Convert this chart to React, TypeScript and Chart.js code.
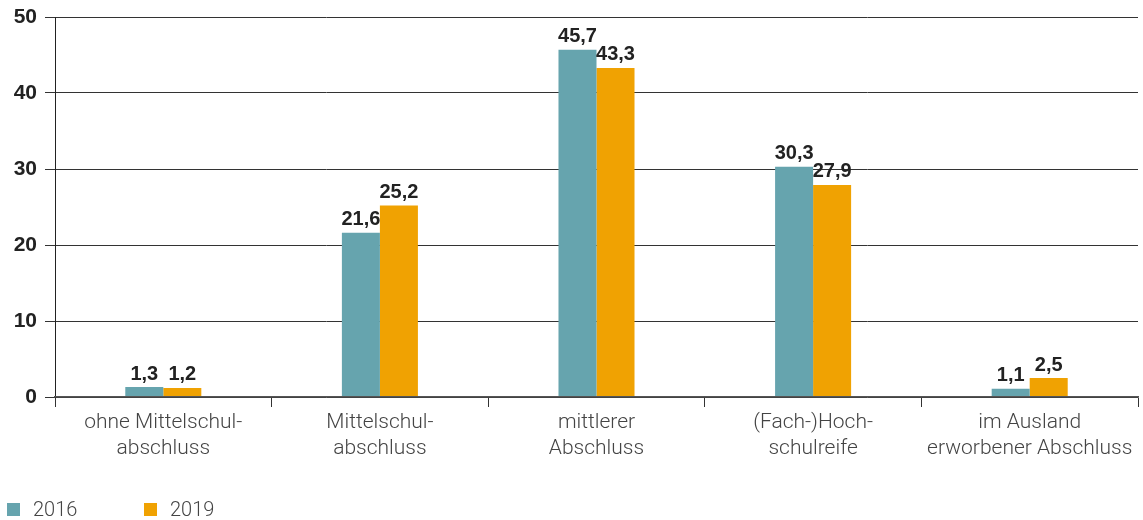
import React, { useEffect, useRef } from "react";
import { Chart, registerables } from "chart.js";

Chart.register(...registerables);

const categories: string[][] = [
  ["ohne Mittelschul-", "abschluss"],
  ["Mittelschul-", "abschluss"],
  ["mittlerer", "Abschluss"],
  ["(Fach-)Hoch-", "schulreife"],
  ["im Ausland", "erworbener Abschluss"],
];
const values2016: number[] = [1.3, 21.6, 45.7, 30.3, 1.1];
const values2019: number[] = [1.2, 25.2, 43.3, 27.9, 2.5];
const seriesNames: string[] = ["2016", "2019"];
const seriesColors: string[] = ["#66a4ae", "#f0a202"];
const yTicks: number[] = [0, 10, 20, 30, 40, 50];

const valueLabels = {
  id: "valueLabels",
  afterDatasetsDraw(chart: any) {
    const ctx = chart.ctx;
    ctx.save();
    ctx.font = "bold 20px 'Liberation Sans', Arial, sans-serif";
    ctx.fillStyle = "#222";
    ctx.textAlign = "center";
    ctx.textBaseline = "bottom";
    chart.data.datasets.forEach((ds: any, i: number) => {
      const meta = chart.getDatasetMeta(i);
      meta.data.forEach((bar: any, j: number) => {
        const v = ds.data[j] as number;
        ctx.fillText(v.toFixed(1).replace(".", ","), bar.x, bar.y - 3);
      });
    });
    ctx.restore();
  },
};

export default function App() {
  const ref = useRef<HTMLCanvasElement>(null);
  useEffect(() => {
    if (!ref.current) return;
    const chart = new Chart(ref.current, {
      type: "bar",
      data: {
        labels: categories,
        datasets: [
          {
            label: seriesNames[0],
            data: values2016,
            backgroundColor: seriesColors[0],
            categoryPercentage: 0.351,
            barPercentage: 1,
          },
          {
            label: seriesNames[1],
            data: values2019,
            backgroundColor: seriesColors[1],
            categoryPercentage: 0.351,
            barPercentage: 1,
          },
        ],
      },
      options: {
        animation: false,
        responsive: false,
        maintainAspectRatio: false,
        layout: { padding: { top: 17, right: 5, left: 0, bottom: 0 } },
        plugins: { legend: { display: false }, tooltip: { enabled: false } },
        scales: {
          x: {
            afterFit: (s: any) => {
              s.height = 123;
            },
            border: { display: true, color: "#555", width: 1.5, z: 1 },
            grid: {
              offset: true,
              drawOnChartArea: false,
              drawTicks: true,
              tickLength: 10,
              color: "#333",
            },
            ticks: {
              color: "#444",
              font: { family: "Roboto, 'Liberation Sans', sans-serif", size: 21, weight: "300" as any, lineHeight: 1.24 },
              padding: 3,
              maxRotation: 0,
              autoSkip: false,
            },
          },
          y: {
            min: 0,
            max: 50,
            afterFit: (s: any) => {
              s.width = 55;
            },
            afterBuildTicks: (s: any) => {
              s.ticks = yTicks.map((v) => ({ value: v }));
            },
            border: { display: true, color: "#222", width: 1 },
            grid: {
              color: "#333",
              lineWidth: 1,
              drawTicks: true,
              tickLength: 10,
            },
            ticks: {
              color: "#222",
              padding: 8,
              font: { family: "'Liberation Sans', Arial, sans-serif", size: 21, weight: "bold", lineHeight: 0.6 },
            },
          },
        },
      },
      plugins: [valueLabels],
    });
    return () => chart.destroy();
  }, []);

  const legendItem = (i: number, left: number) => (
    <div
      key={i}
      style={{
        position: "absolute",
        left,
        top: 497,
        display: "flex",
        alignItems: "center",
        fontFamily: "Roboto, 'Liberation Sans', sans-serif",
        fontWeight: 300,
        fontSize: 20,
        color: "#444",
      }}
    >
      <span style={{ display: "inline-block", width: 13, height: 13, background: seriesColors[i], marginRight: 13 }} />
      <span>{seriesNames[i]}</span>
    </div>
  );

  return (
    <div style={{ position: "absolute", left: 0, top: 0, width: 1143, height: 520, background: "#fff" }}>
      <canvas ref={ref} width={1143} height={520} style={{ position: "absolute", left: 0, top: 0 }} />
      {legendItem(0, 7)}
      {legendItem(1, 144)}
    </div>
  );
}
